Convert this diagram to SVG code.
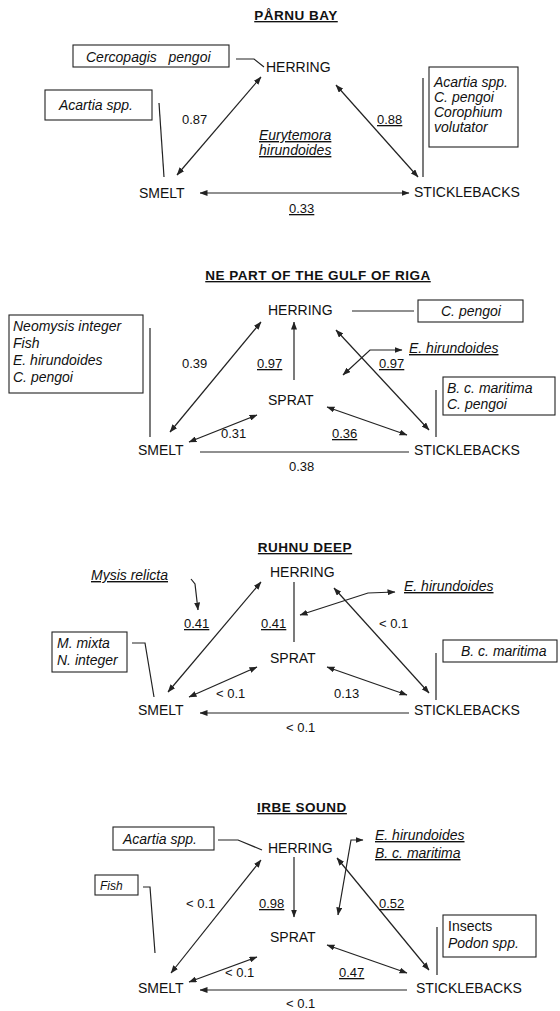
<svg xmlns="http://www.w3.org/2000/svg" width="560" height="1011" viewBox="0 0 560 1011">
<defs>
<marker id="ah" viewBox="0 0 8 6" refX="7.5" refY="3" markerWidth="8" markerHeight="6" markerUnits="userSpaceOnUse" orient="auto-start-reverse">
<path d="M0,0 L8,3 L0,6 z" fill="#222"/>
</marker>
<style>
text{font-family:"Liberation Sans",Arial,sans-serif;fill:#111}
.node{font-size:14px}
.title{font-size:13.5px;font-weight:bold;letter-spacing:0.5px;text-decoration:underline}
.num{font-size:13px}
.u{text-decoration:underline}
.it{font-size:14px;font-style:italic}
.box{fill:#fff;stroke:#222;stroke-width:1.1}
.ln{fill:none;stroke:#222;stroke-width:1.2}
.ar{fill:none;stroke:#222;stroke-width:1.2;marker-end:url(#ah)}
.ar2{fill:none;stroke:#222;stroke-width:1.2;marker-start:url(#ah);marker-end:url(#ah)}
</style>
</defs>
<rect width="560" height="1011" fill="#fff"/>

<!-- PANEL 1: PARNU BAY -->
<g id="p1">
<text class="title" x="296" y="20" text-anchor="middle">PÅRNU BAY</text>
<g id="p1-herring"><text class="node" x="266" y="72">HERRING</text></g>
<g id="p1-smelt"><text class="node" x="139" y="198">SMELT</text></g>
<g id="p1-stick"><text class="node" x="414" y="197">STICKLEBACKS</text></g>
<g id="p1-cerco"><rect class="box" x="73" y="45" width="156" height="22"/><text class="it" x="86" y="62">Cercopagis&#160;&#160; pengoi</text></g>
<g id="p1-acartia"><rect class="box" x="45" y="90" width="107" height="30"/><text class="it" x="59" y="110">Acartia spp.</text></g>
<g id="p1-right"><rect class="box" x="429" y="67" width="89" height="80"/>
<text class="it" x="434" y="87">Acartia spp.</text><text class="it" x="434" y="102">C. pengoi</text><text class="it" x="434" y="117">Corophium</text><text class="it" x="434" y="132">volutator</text></g>
<g id="p1-eury"><text class="it u" x="259" y="140">Eurytemora</text><text class="it u" x="259" y="155">hirundoides</text></g>
<g id="p1-edges">
<polyline class="ln" points="236,59 254,59 264,67"/>
<line class="ln" x1="159" y1="103" x2="164" y2="177"/>
<line class="ln" x1="423" y1="78" x2="423" y2="177"/>
<line class="ar2" x1="177" y1="175" x2="261" y2="77"/>
<line class="ar2" x1="336" y1="85" x2="418" y2="177"/>
<line class="ar2" x1="200" y1="193" x2="409" y2="193"/>
<text class="num" x="182" y="124">0.87</text>
<text class="num u" x="377" y="124">0.88</text>
<text class="num u" x="289" y="213">0.33</text>
</g>
</g>

<!-- PANEL 2: NE PART OF THE GULF OF RIGA -->
<g id="p2">
<text class="title" x="318" y="280" text-anchor="middle">NE PART OF THE GULF OF RIGA</text>
<g id="p2-herring"><text class="node" x="268" y="315">HERRING</text></g>
<g id="p2-sprat"><text class="node" x="268" y="405">SPRAT</text></g>
<g id="p2-smelt"><text class="node" x="138" y="455">SMELT</text></g>
<g id="p2-stick"><text class="node" x="414" y="455">STICKLEBACKS</text></g>
<g id="p2-cpengoi"><rect class="box" x="418" y="300" width="105" height="22"/><text class="it" x="441" y="316">C. pengoi</text></g>
<g id="p2-left"><rect class="box" x="9" y="315" width="134" height="78"/>
<text class="it" x="13" y="331">Neomysis integer</text><text class="it" x="13" y="348">Fish</text><text class="it" x="13" y="365">E. hirundoides</text><text class="it" x="13" y="382">C. pengoi</text></g>
<g id="p2-ehir"><text class="it u" x="409" y="353">E. hirundoides</text></g>
<g id="p2-right"><rect class="box" x="443" y="377" width="112" height="38"/>
<text class="it" x="447" y="393">B. c. maritima</text><text class="it" x="447" y="409">C. pengoi</text></g>
<g id="p2-edges">
<line class="ln" x1="352" y1="311" x2="414" y2="311"/>
<line class="ln" x1="150" y1="328" x2="150" y2="437"/>
<line class="ln" x1="436" y1="390" x2="436" y2="437"/>
<line class="ar2" x1="170" y1="432" x2="261" y2="322"/>
<line class="ar" x1="294" y1="380" x2="294" y2="322"/>
<line class="ar2" x1="429" y1="430" x2="336" y2="330"/>
<polyline class="ar2" points="343,375 370,350 402,350"/>
<line class="ar2" x1="189" y1="442" x2="257" y2="415"/>
<line class="ar2" x1="327" y1="407" x2="407" y2="435"/>
<line class="ln" x1="200" y1="452" x2="409" y2="452"/>
<text class="num" x="182" y="368">0.39</text>
<text class="num u" x="257" y="368">0.97</text>
<text class="num u" x="379" y="368">0.97</text>
<text class="num" x="221" y="438">0.31</text>
<text class="num u" x="332" y="438">0.36</text>
<text class="num" x="289" y="471">0.38</text>
</g>
</g>

<!-- PANEL 3: RUHNU DEEP -->
<g id="p3">
<text class="title" x="305" y="552" text-anchor="middle">RUHNU DEEP</text>
<g id="p3-herring"><text class="node" x="270" y="577">HERRING</text></g>
<g id="p3-sprat"><text class="node" x="270" y="663">SPRAT</text></g>
<g id="p3-smelt"><text class="node" x="138" y="715">SMELT</text></g>
<g id="p3-stick"><text class="node" x="414" y="715">STICKLEBACKS</text></g>
<g id="p3-mysis"><text class="it u" x="91" y="580">Mysis relicta</text></g>
<g id="p3-ehir"><text class="it u" x="404" y="591">E. hirundoides</text></g>
<g id="p3-mixta"><rect class="box" x="52" y="632" width="75" height="40"/>
<text class="it" x="57" y="648">M. mixta</text><text class="it" x="57" y="665">N. integer</text></g>
<g id="p3-bcm"><rect class="box" x="443" y="640" width="114" height="22"/><text class="it" x="461" y="656">B. c. maritima</text></g>
<g id="p3-edges">
<polyline class="ar" points="191,579 195,584 198,610"/>
<polyline class="ln" points="132,643 145,643 154,697"/>
<line class="ln" x1="436" y1="653" x2="436" y2="700"/>
<line class="ln" x1="294" y1="582" x2="294" y2="642"/>
<line class="ar2" x1="168" y1="692" x2="261" y2="582"/>
<line class="ar2" x1="429" y1="693" x2="334" y2="588"/>
<polyline class="ar2" points="300,615 368,593 395,592"/>
<line class="ar2" x1="189" y1="697" x2="257" y2="667"/>
<line class="ar2" x1="327" y1="667" x2="407" y2="695"/>
<line class="ar" x1="409" y1="713" x2="200" y2="713"/>
<text class="num u" x="184" y="628">0.41</text>
<text class="num u" x="261" y="628">0.41</text>
<text class="num" x="379" y="628">&lt; 0.1</text>
<text class="num" x="216" y="698">&lt; 0.1</text>
<text class="num" x="334" y="698">0.13</text>
<text class="num" x="286" y="732">&lt; 0.1</text>
</g>
</g>

<!-- PANEL 4: IRBE SOUND -->
<g id="p4">
<text class="title" x="302" y="812" text-anchor="middle">IRBE SOUND</text>
<g id="p4-herring"><text class="node" x="268" y="853">HERRING</text></g>
<g id="p4-sprat"><text class="node" x="270" y="942">SPRAT</text></g>
<g id="p4-smelt"><text class="node" x="138" y="993">SMELT</text></g>
<g id="p4-stick"><text class="node" x="416" y="993">STICKLEBACKS</text></g>
<g id="p4-acartia"><rect class="box" x="113" y="827" width="101" height="23"/><text class="it" x="123" y="844">Acartia spp.</text></g>
<g id="p4-fish"><rect class="box" x="95" y="875" width="43" height="20"/><text class="it" x="100" y="890" style="font-size:12px">Fish</text></g>
<g id="p4-ehir"><text class="it u" x="375" y="840">E. hirundoides</text><text class="it u" x="375" y="858">B. c. maritima</text></g>
<g id="p4-insects"><rect class="box" x="443" y="915" width="93" height="42"/>
<text x="448" y="931" style="font-size:14px">Insects</text><text class="it" x="448" y="948">Podon spp.</text></g>
<g id="p4-edges">
<polyline class="ln" points="218,840 238,840 262,850"/>
<polyline class="ln" points="143,887 150,887 155,953"/>
<line class="ln" x1="437" y1="927" x2="437" y2="975"/>
<polyline class="ar2" points="338,915 351,840 363,840"/>
<line class="ar2" x1="171" y1="973" x2="261" y2="860"/>
<line class="ar" x1="294" y1="857" x2="294" y2="917"/>
<line class="ar2" x1="429" y1="970" x2="337" y2="858"/>
<line class="ar2" x1="189" y1="982" x2="257" y2="957"/>
<line class="ar2" x1="327" y1="945" x2="407" y2="973"/>
<line class="ar" x1="407" y1="990" x2="200" y2="990"/>
<text class="num" x="186" y="908">&lt; 0.1</text>
<text class="num u" x="259" y="908">0.98</text>
<text class="num u" x="379" y="908">0.52</text>
<text class="num" x="225" y="977">&lt; 0.1</text>
<text class="num u" x="339" y="977">0.47</text>
<text class="num" x="286" y="1008">&lt; 0.1</text>
</g>
</g>
</svg>
